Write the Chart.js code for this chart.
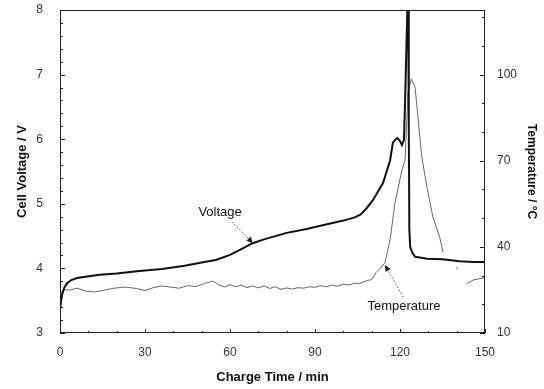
<!DOCTYPE html>
<html>
<head>
<meta charset="utf-8">
<title>Cell voltage and temperature during charge</title>
<script src="https://cdn.jsdelivr.net/npm/chart.js@4.4.1/dist/chart.umd.min.js"></script>
<style>
  body { margin: 0; background: #fff; }
  #chartContainer { width: 544px; height: 389px; }
</style>
</head>
<body>
<div id="chartContainer"><canvas id="chargeChart" width="544" height="389"></canvas></div>
<script>
// Voltage trace (min, V)
const voltTime = [0, 0.4, 0.8, 1.5, 2.5, 4, 6, 9, 14, 20, 28, 36, 44, 50, 55, 60, 64, 68, 72, 76, 80, 87, 95, 100, 104, 106, 108, 110.5, 114, 116.5, 117.5, 119, 120, 120.7, 121.4, 121.8, 122.3, 122.6, 122.9, 123.1, 123.3, 123.6, 124.4, 125.3, 127, 129.5, 135, 141, 146, 150];
const voltValues = [3.35, 3.5, 3.6, 3.7, 3.77, 3.82, 3.85, 3.87, 3.9, 3.92, 3.96, 3.99, 4.04, 4.09, 4.13, 4.21, 4.3, 4.39, 4.45, 4.5, 4.55, 4.61, 4.69, 4.74, 4.79, 4.83, 4.92, 5.06, 5.32, 5.67, 5.95, 6.02, 5.97, 5.91, 5.99, 6.6, 7.5, 8.0, 8.0, 6.2, 4.6, 4.33, 4.24, 4.18, 4.17, 4.15, 4.14, 4.11, 4.1, 4.1];

// Temperature trace (min, deg C); null leaves a gap in the line
const tempTime = [0, 1, 3.5, 6, 9, 12, 15, 19, 23, 27, 30, 33, 36, 39, 42, 45, 48, 51, 54, 56, 58, 60, 62, 64, 66, 68, 70, 72, 74, 76, 78, 80, 82, 84, 86, 88, 90, 92, 94, 96, 98, 100, 102, 104, 105.5, 107, 108.5, 110, 111.5, 113, 114.7, 116.5, 118.2, 120.7, 121.8, 122.8, 124, 125.3, 127, 127.7, 129.5, 131.6, 134, 135.2, 137, 139.8, 140.5, 142, 143.5, 146, 150];
const tempValues = [23, 25, 25, 25.6, 24.6, 24.3, 24.8, 25.6, 26, 25.5, 24.8, 25.8, 26.4, 26, 25.6, 26.5, 26.2, 27.2, 28.1, 26.8, 26, 26.8, 26.1, 26.7, 25.8, 26.4, 25.7, 26.4, 25.5, 26.1, 25.2, 25.7, 25.3, 25.8, 25.6, 26.1, 25.9, 26.5, 26.1, 26.7, 26.3, 27, 26.7, 27.4, 27.1, 27.8, 28.3, 28.6, 31, 32.5, 34.5, 42.4, 55.3, 66.8, 70.3, 93.6, 98.5, 95.7, 78.3, 71.3, 60.9, 50.4, 43.4, 38.2, null, 32.8, 32.2, null, 27.2, 28.5, 29.3];

// Axis tick labels
const timeTicks = [0, 30, 60, 90, 120, 150];
const voltTicks = [3, 4, 5, 6, 7, 8];
const tempTicks = [10, 40, 70, 100];

Chart.defaults.font.family = "'Liberation Sans', Arial, sans-serif";
Chart.defaults.color = "#333";

function toPoints(xs, ys) {
    return xs.map((x, i) => ({ x: x, y: ys[i] }));
}

function setTicks(values) {
    return function (scale) {
        scale.ticks = values.map(v => ({ value: v }));
    };
}

// fixed box size for a scale, without the label overhang padding
function fixSize(prop, size) {
    return function (scale) {
        scale[prop] = size;
        scale.paddingTop = 0;
        scale.paddingBottom = 0;
        scale.paddingLeft = 0;
        scale.paddingRight = 0;
    };
}

// dotted pointer with a small solid head
function pointer(ctx, x0, y0, x1, y1) {
    ctx.setLineDash([1.5, 2]);
    ctx.beginPath();
    ctx.moveTo(x0, y0);
    ctx.lineTo(x1, y1);
    ctx.stroke();
    ctx.setLineDash([]);
    const ang = Math.atan2(y1 - y0, x1 - x0);
    ctx.beginPath();
    ctx.moveTo(x1, y1);
    ctx.lineTo(x1 - 7 * Math.cos(ang - 0.45), y1 - 7 * Math.sin(ang - 0.45));
    ctx.lineTo(x1 - 7 * Math.cos(ang + 0.45), y1 - 7 * Math.sin(ang + 0.45));
    ctx.closePath();
    ctx.fill();
}

// frame, inward tick marks and the two curve labels
const frameAndNotes = {
    id: "frameAndNotes",
    afterDatasetsDraw(chart) {
        const { ctx, chartArea: a, scales } = chart;
        const sx = scales.x, sy = scales.y, st = scales.y2;
        ctx.save();
        ctx.strokeStyle = "#222";
        ctx.lineWidth = 1;
        ctx.strokeRect(a.left + 0.5, a.top + 0.5, a.right - a.left - 1, a.bottom - a.top - 1);

        ctx.beginPath();
        for (let i = 0; i <= 25; i++) {
            const py = Math.round(sy.getPixelForValue(3 + i * 0.2)) + 0.5;
            const len = i % 5 === 0 ? 5 : 3;
            ctx.moveTo(a.left, py);
            ctx.lineTo(a.left + len, py);
        }
        for (let v = 10; v <= 120; v += 10) {
            const py = Math.round(st.getPixelForValue(v)) + 0.5;
            const len = (v - 10) % 30 === 0 ? 5 : 3;
            ctx.moveTo(a.right, py);
            ctx.lineTo(a.right - len, py);
        }
        for (let v = 0; v <= 150; v += 10) {
            const px = Math.round(sx.getPixelForValue(v)) + 0.5;
            const len = v % 30 === 0 ? 4 : 2;
            ctx.moveTo(px, a.bottom);
            ctx.lineTo(px, a.bottom - len);
        }
        ctx.stroke();

        ctx.fillStyle = "#111";
        ctx.font = "13px 'Liberation Sans', Arial, sans-serif";
        ctx.textAlign = "center";
        ctx.textBaseline = "middle";
        ctx.fillText("Voltage", sx.getPixelForValue(56.5), sy.getPixelForValue(4.87));
        ctx.fillText("Temperature", sx.getPixelForValue(121.4), st.getPixelForValue(19.1));

        ctx.strokeStyle = "#555";
        ctx.fillStyle = "#222";
        pointer(ctx, sx.getPixelForValue(60.7), sy.getPixelForValue(4.72),
            sx.getPixelForValue(68.1), sy.getPixelForValue(4.39));
        pointer(ctx, sx.getPixelForValue(121.1), st.getPixelForValue(22.5),
            sx.getPixelForValue(114.7), st.getPixelForValue(33.7));
        ctx.restore();
    }
};

const data = {
    datasets: [
        {
            label: "Voltage",
            data: toPoints(voltTime, voltValues),
            yAxisID: "y",
            borderColor: "#111",
            borderWidth: 2,
            pointRadius: 0,
            tension: 0
        },
        {
            label: "Temperature",
            data: toPoints(tempTime, tempValues),
            yAxisID: "y2",
            borderColor: "#666",
            borderWidth: 1,
            pointRadius: 0,
            tension: 0,
            spanGaps: false
        }
    ]
};

const options = {
    responsive: false,
    animation: false,
    layout: { padding: { top: 10, left: 0, right: 0, bottom: 0 } },
    plugins: {
        legend: { display: false },
        tooltip: { enabled: false }
    },
    scales: {
        x: {
            type: "linear",
            position: "bottom",
            min: 0,
            max: 150,
            grid: { display: false, drawTicks: false },
            border: { display: false },
            afterBuildTicks: setTicks(timeTicks),
            afterFit: fixSize("height", 56),
            ticks: { font: { size: 12 }, padding: 12, maxRotation: 0 },
            title: {
                display: true,
                text: "Charge Time / min",
                color: "#111",
                font: { size: 13, weight: "bold" },
                padding: { top: 0, bottom: 4 }
            }
        },
        y: {
            type: "linear",
            position: "left",
            min: 3,
            max: 8,
            grid: { display: false, drawTicks: false },
            border: { display: false },
            afterBuildTicks: setTicks(voltTicks),
            afterFit: fixSize("width", 60),
            ticks: { font: { size: 12 }, padding: 17 },
            title: {
                display: true,
                text: "Cell Voltage / V",
                color: "#111",
                font: { size: 13, weight: "bold" },
                padding: { top: 15, bottom: 0 }
            }
        },
        y2: {
            type: "linear",
            position: "right",
            min: 10,
            max: 122.5,
            grid: { display: false, drawTicks: false },
            border: { display: false },
            afterBuildTicks: setTicks(tempTicks),
            afterFit: fixSize("width", 59),
            ticks: { font: { size: 12 }, padding: 12 },
            title: {
                display: true,
                text: "Temperature / °C",
                color: "#111",
                font: { size: 12, weight: "bold" },
                padding: { top: 5, bottom: 0 }
            }
        }
    }
};

const ctx = document.getElementById("chargeChart").getContext("2d");
new Chart(ctx, {
    type: "line",
    data: data,
    options: options,
    plugins: [frameAndNotes]
});
</script>
</body>
</html>
